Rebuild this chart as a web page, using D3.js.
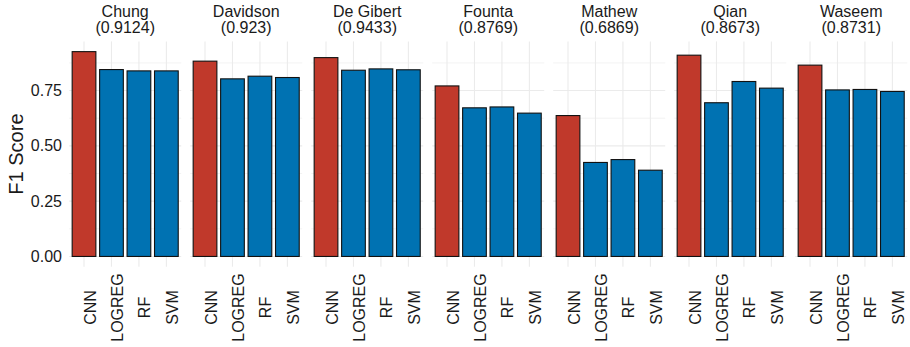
<!DOCTYPE html>
<html>
<head>
<meta charset="utf-8">
<script src="https://cdn.jsdelivr.net/npm/d3@7"></script>
<style>
  body { margin: 0; background: #fff; }
  svg { display: block; font-family: "Liberation Sans", Arial, sans-serif; }
</style>
</head>
<body>
<svg id="chart" width="910" height="347"></svg>
<script>
// ---- data ----
const datasets = ["Chung", "Davidson", "De Gibert", "Founta", "Mathew", "Qian", "Waseem"];
const stripScores = ["0.9124", "0.923", "0.9433", "0.8769", "0.6869", "0.8673", "0.8731"];
const models = ["CNN", "LOGREG", "RF", "SVM"];
const cnnF1    = [0.926, 0.883, 0.899, 0.771, 0.637, 0.910, 0.865];
const logregF1 = [0.845, 0.803, 0.842, 0.672, 0.425, 0.695, 0.753];
const rfF1     = [0.839, 0.815, 0.848, 0.676, 0.438, 0.791, 0.755];
const svmF1    = [0.839, 0.809, 0.844, 0.648, 0.390, 0.761, 0.746];
const yTicks = [0, 0.25, 0.5, 0.75];
const yMinor = [0.125, 0.375, 0.625, 0.875];
const yTickLabels = ["0.00", "0.25", "0.50", "0.75"];

const seriesByModel = { CNN: cnnF1, LOGREG: logregF1, RF: rfF1, SVM: svmF1 };
const colorByModel = { CNN: "#C0392B", LOGREG: "#0072B2", RF: "#0072B2", SVM: "#0072B2" };

const svg = d3.select("#chart");
const fontCol = "#1a1a1a";

const panelTop = 41.4, panelBottom = 266.7;
const allVals = [].concat(cnnF1, logregF1, rfF1, svmF1);
const M = d3.max(allVals);
const y = d3.scaleLinear().domain([-0.05 * M, 1.05 * M]).range([panelBottom, panelTop]);

const panelLeft0 = 69.2, panelStep = 121, panelW = 112;
const fx = d3.scaleBand().domain(datasets).range([panelLeft0, panelLeft0 + panelStep * datasets.length]).paddingInner(0).paddingOuter(0);

const x = d3.scaleBand().domain(models).range([0, panelW]).paddingInner(0.1).paddingOuter(0.09);

// y tick labels
svg.append("g").selectAll("text").data(yTicks).join("text")
  .attr("x", 62).attr("y", d => y(d)).attr("dy", "0.35em")
  .attr("text-anchor", "end").attr("font-size", 16).attr("fill", fontCol)
  .text((d, i) => yTickLabels[i]);

// y title
svg.append("text")
  .attr("transform", `translate(23,${(panelTop + panelBottom) / 2}) rotate(-90)`)
  .attr("text-anchor", "middle").attr("font-size", 20).attr("fill", fontCol)
  .text("F1 Score");

datasets.forEach((ds, di) => {
  const g = svg.append("g").attr("transform", `translate(${fx(ds)},0)`);
  // minor grid
  g.selectAll("line.minor").data(yMinor).join("line")
    .attr("x1", 0).attr("x2", panelW).attr("y1", d => y(d)).attr("y2", d => y(d))
    .attr("stroke", "#EBEBEB").attr("stroke-width", 0.6);
  // major horizontal grid
  g.selectAll("line.major").data(yTicks).join("line")
    .attr("x1", 0).attr("x2", panelW).attr("y1", d => y(d)).attr("y2", d => y(d))
    .attr("stroke", "#EBEBEB").attr("stroke-width", 1.1);
  // vertical grid
  g.selectAll("line.vg").data(models).join("line")
    .attr("x1", d => x(d) + x.bandwidth() / 2).attr("x2", d => x(d) + x.bandwidth() / 2)
    .attr("y1", panelTop).attr("y2", panelBottom)
    .attr("stroke", "#EBEBEB").attr("stroke-width", 1.1);
  // bars
  g.selectAll("rect").data(models).join("rect")
    .attr("x", d => x(d) + 0.5)
    .attr("width", x.bandwidth() - 1)
    .attr("y", d => y(seriesByModel[d][di]))
    .attr("height", d => y(0) - y(seriesByModel[d][di]))
    .attr("fill", d => colorByModel[d])
    .attr("stroke", "#111").attr("stroke-width", 1.1);
  // strip labels
  g.append("text").attr("x", panelW / 2).attr("y", 17)
    .attr("text-anchor", "middle").attr("font-size", 16).attr("fill", fontCol).text(ds);
  g.append("text").attr("x", panelW / 2).attr("y", 32.5)
    .attr("text-anchor", "middle").attr("font-size", 16).attr("fill", fontCol).text(`(${stripScores[di]})`);
  // x tick labels
  g.selectAll("text.xl").data(models).join("text")
    .attr("transform", d => `translate(${x(d) + x.bandwidth() / 2 + 11.5},307.5) rotate(-90)`)
    .attr("text-anchor", "middle").attr("font-size", 16).attr("fill", fontCol)
    .text(d => d);
});
</script>
</body>
</html>
